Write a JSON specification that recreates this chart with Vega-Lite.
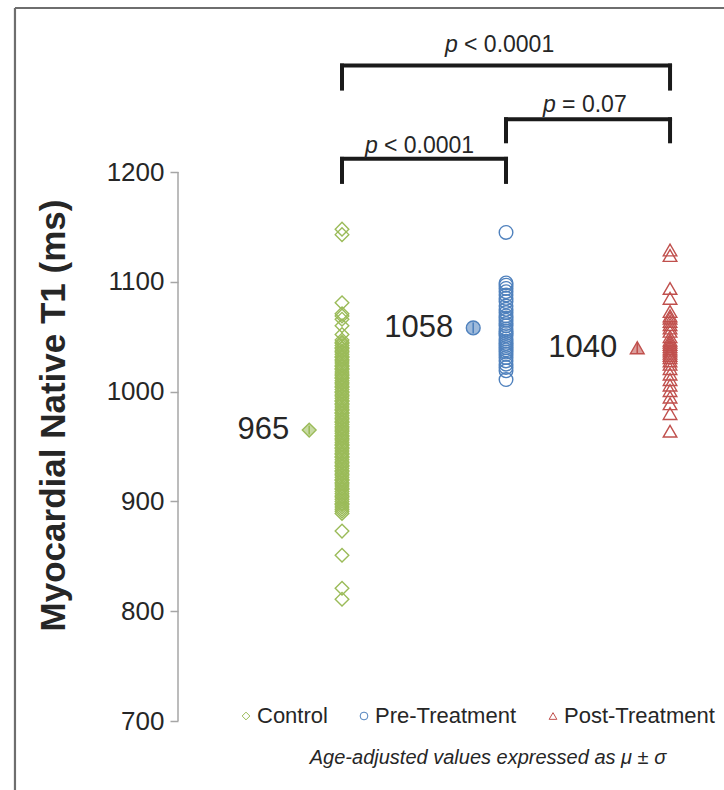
{
  "$schema": "https://vega.github.io/schema/vega-lite/v6.json",
  "width": 546,
  "height": 782,
  "autosize": "none",
  "padding": {"left": 178, "top": 8, "right": 0, "bottom": 0},
  "background": "white",
  "config": {"view": {"stroke": null}, "font": "Liberation Sans"},
  "resolve": {"scale": {"color": "independent", "shape": "independent", "stroke": "independent"}},
  "datasets": {
    "points": [
      {"group": "Control", "x": 1, "t1": 1148}, {"group": "Control", "x": 1, "t1": 1143},
      {"group": "Control", "x": 1, "t1": 1081}, {"group": "Control", "x": 1, "t1": 1071},
      {"group": "Control", "x": 1, "t1": 1069}, {"group": "Control", "x": 1, "t1": 1066},
      {"group": "Control", "x": 1, "t1": 1060}, {"group": "Control", "x": 1, "t1": 1052},
      {"group": "Control", "x": 1, "t1": 1047}, {"group": "Control", "x": 1, "t1": 1045},
      {"group": "Control", "x": 1, "t1": 1044}, {"group": "Control", "x": 1, "t1": 1042},
      {"group": "Control", "x": 1, "t1": 1040}, {"group": "Control", "x": 1, "t1": 1039},
      {"group": "Control", "x": 1, "t1": 1037}, {"group": "Control", "x": 1, "t1": 1036},
      {"group": "Control", "x": 1, "t1": 1034}, {"group": "Control", "x": 1, "t1": 1032},
      {"group": "Control", "x": 1, "t1": 1031}, {"group": "Control", "x": 1, "t1": 1029},
      {"group": "Control", "x": 1, "t1": 1028}, {"group": "Control", "x": 1, "t1": 1026},
      {"group": "Control", "x": 1, "t1": 1024}, {"group": "Control", "x": 1, "t1": 1023},
      {"group": "Control", "x": 1, "t1": 1021}, {"group": "Control", "x": 1, "t1": 1020},
      {"group": "Control", "x": 1, "t1": 1018}, {"group": "Control", "x": 1, "t1": 1016},
      {"group": "Control", "x": 1, "t1": 1015}, {"group": "Control", "x": 1, "t1": 1013},
      {"group": "Control", "x": 1, "t1": 1012}, {"group": "Control", "x": 1, "t1": 1010},
      {"group": "Control", "x": 1, "t1": 1008}, {"group": "Control", "x": 1, "t1": 1007},
      {"group": "Control", "x": 1, "t1": 1005}, {"group": "Control", "x": 1, "t1": 1004},
      {"group": "Control", "x": 1, "t1": 1002}, {"group": "Control", "x": 1, "t1": 1000},
      {"group": "Control", "x": 1, "t1": 999}, {"group": "Control", "x": 1, "t1": 997},
      {"group": "Control", "x": 1, "t1": 996}, {"group": "Control", "x": 1, "t1": 994},
      {"group": "Control", "x": 1, "t1": 992}, {"group": "Control", "x": 1, "t1": 991},
      {"group": "Control", "x": 1, "t1": 989}, {"group": "Control", "x": 1, "t1": 988},
      {"group": "Control", "x": 1, "t1": 986}, {"group": "Control", "x": 1, "t1": 984},
      {"group": "Control", "x": 1, "t1": 983}, {"group": "Control", "x": 1, "t1": 981},
      {"group": "Control", "x": 1, "t1": 980}, {"group": "Control", "x": 1, "t1": 978},
      {"group": "Control", "x": 1, "t1": 976}, {"group": "Control", "x": 1, "t1": 975},
      {"group": "Control", "x": 1, "t1": 973}, {"group": "Control", "x": 1, "t1": 972},
      {"group": "Control", "x": 1, "t1": 970}, {"group": "Control", "x": 1, "t1": 968},
      {"group": "Control", "x": 1, "t1": 967}, {"group": "Control", "x": 1, "t1": 965},
      {"group": "Control", "x": 1, "t1": 964}, {"group": "Control", "x": 1, "t1": 962},
      {"group": "Control", "x": 1, "t1": 960}, {"group": "Control", "x": 1, "t1": 959},
      {"group": "Control", "x": 1, "t1": 957}, {"group": "Control", "x": 1, "t1": 956},
      {"group": "Control", "x": 1, "t1": 954}, {"group": "Control", "x": 1, "t1": 952},
      {"group": "Control", "x": 1, "t1": 951}, {"group": "Control", "x": 1, "t1": 949},
      {"group": "Control", "x": 1, "t1": 948}, {"group": "Control", "x": 1, "t1": 946},
      {"group": "Control", "x": 1, "t1": 944}, {"group": "Control", "x": 1, "t1": 943},
      {"group": "Control", "x": 1, "t1": 941}, {"group": "Control", "x": 1, "t1": 940},
      {"group": "Control", "x": 1, "t1": 938}, {"group": "Control", "x": 1, "t1": 936},
      {"group": "Control", "x": 1, "t1": 935}, {"group": "Control", "x": 1, "t1": 933},
      {"group": "Control", "x": 1, "t1": 932}, {"group": "Control", "x": 1, "t1": 930},
      {"group": "Control", "x": 1, "t1": 928}, {"group": "Control", "x": 1, "t1": 927},
      {"group": "Control", "x": 1, "t1": 925}, {"group": "Control", "x": 1, "t1": 924},
      {"group": "Control", "x": 1, "t1": 922}, {"group": "Control", "x": 1, "t1": 920},
      {"group": "Control", "x": 1, "t1": 919}, {"group": "Control", "x": 1, "t1": 917},
      {"group": "Control", "x": 1, "t1": 916}, {"group": "Control", "x": 1, "t1": 914},
      {"group": "Control", "x": 1, "t1": 912}, {"group": "Control", "x": 1, "t1": 911},
      {"group": "Control", "x": 1, "t1": 909}, {"group": "Control", "x": 1, "t1": 907},
      {"group": "Control", "x": 1, "t1": 905}, {"group": "Control", "x": 1, "t1": 904},
      {"group": "Control", "x": 1, "t1": 902}, {"group": "Control", "x": 1, "t1": 900},
      {"group": "Control", "x": 1, "t1": 898}, {"group": "Control", "x": 1, "t1": 897},
      {"group": "Control", "x": 1, "t1": 895}, {"group": "Control", "x": 1, "t1": 893},
      {"group": "Control", "x": 1, "t1": 891}, {"group": "Control", "x": 1, "t1": 889},
      {"group": "Control", "x": 1, "t1": 873}, {"group": "Control", "x": 1, "t1": 851},
      {"group": "Control", "x": 1, "t1": 821}, {"group": "Control", "x": 1, "t1": 811},
      {"group": "Pre-Treatment", "x": 2, "t1": 1145}, {"group": "Pre-Treatment", "x": 2, "t1": 1099},
      {"group": "Pre-Treatment", "x": 2, "t1": 1097}, {"group": "Pre-Treatment", "x": 2, "t1": 1094},
      {"group": "Pre-Treatment", "x": 2, "t1": 1091}, {"group": "Pre-Treatment", "x": 2, "t1": 1088},
      {"group": "Pre-Treatment", "x": 2, "t1": 1085}, {"group": "Pre-Treatment", "x": 2, "t1": 1082},
      {"group": "Pre-Treatment", "x": 2, "t1": 1078}, {"group": "Pre-Treatment", "x": 2, "t1": 1075},
      {"group": "Pre-Treatment", "x": 2, "t1": 1072}, {"group": "Pre-Treatment", "x": 2, "t1": 1069},
      {"group": "Pre-Treatment", "x": 2, "t1": 1067}, {"group": "Pre-Treatment", "x": 2, "t1": 1065},
      {"group": "Pre-Treatment", "x": 2, "t1": 1062}, {"group": "Pre-Treatment", "x": 2, "t1": 1060},
      {"group": "Pre-Treatment", "x": 2, "t1": 1057}, {"group": "Pre-Treatment", "x": 2, "t1": 1055},
      {"group": "Pre-Treatment", "x": 2, "t1": 1053}, {"group": "Pre-Treatment", "x": 2, "t1": 1051},
      {"group": "Pre-Treatment", "x": 2, "t1": 1048}, {"group": "Pre-Treatment", "x": 2, "t1": 1046},
      {"group": "Pre-Treatment", "x": 2, "t1": 1044}, {"group": "Pre-Treatment", "x": 2, "t1": 1042},
      {"group": "Pre-Treatment", "x": 2, "t1": 1040}, {"group": "Pre-Treatment", "x": 2, "t1": 1038},
      {"group": "Pre-Treatment", "x": 2, "t1": 1036}, {"group": "Pre-Treatment", "x": 2, "t1": 1034},
      {"group": "Pre-Treatment", "x": 2, "t1": 1031}, {"group": "Pre-Treatment", "x": 2, "t1": 1028},
      {"group": "Pre-Treatment", "x": 2, "t1": 1025}, {"group": "Pre-Treatment", "x": 2, "t1": 1022},
      {"group": "Pre-Treatment", "x": 2, "t1": 1019}, {"group": "Pre-Treatment", "x": 2, "t1": 1011},
      {"group": "Post-Treatment", "x": 3, "t1": 1129}, {"group": "Post-Treatment", "x": 3, "t1": 1124},
      {"group": "Post-Treatment", "x": 3, "t1": 1094}, {"group": "Post-Treatment", "x": 3, "t1": 1085},
      {"group": "Post-Treatment", "x": 3, "t1": 1073}, {"group": "Post-Treatment", "x": 3, "t1": 1069},
      {"group": "Post-Treatment", "x": 3, "t1": 1067}, {"group": "Post-Treatment", "x": 3, "t1": 1064},
      {"group": "Post-Treatment", "x": 3, "t1": 1061}, {"group": "Post-Treatment", "x": 3, "t1": 1058},
      {"group": "Post-Treatment", "x": 3, "t1": 1055}, {"group": "Post-Treatment", "x": 3, "t1": 1050},
      {"group": "Post-Treatment", "x": 3, "t1": 1047}, {"group": "Post-Treatment", "x": 3, "t1": 1045},
      {"group": "Post-Treatment", "x": 3, "t1": 1043}, {"group": "Post-Treatment", "x": 3, "t1": 1041},
      {"group": "Post-Treatment", "x": 3, "t1": 1039}, {"group": "Post-Treatment", "x": 3, "t1": 1037},
      {"group": "Post-Treatment", "x": 3, "t1": 1035}, {"group": "Post-Treatment", "x": 3, "t1": 1033},
      {"group": "Post-Treatment", "x": 3, "t1": 1031}, {"group": "Post-Treatment", "x": 3, "t1": 1028},
      {"group": "Post-Treatment", "x": 3, "t1": 1025}, {"group": "Post-Treatment", "x": 3, "t1": 1021},
      {"group": "Post-Treatment", "x": 3, "t1": 1016}, {"group": "Post-Treatment", "x": 3, "t1": 1011},
      {"group": "Post-Treatment", "x": 3, "t1": 1006}, {"group": "Post-Treatment", "x": 3, "t1": 1001},
      {"group": "Post-Treatment", "x": 3, "t1": 995}, {"group": "Post-Treatment", "x": 3, "t1": 989},
      {"group": "Post-Treatment", "x": 3, "t1": 980}, {"group": "Post-Treatment", "x": 3, "t1": 964}
    ],
    "means": [
      {"group": "Control", "x": 0.8, "mean": 965, "lo": 961, "hi": 969},
      {"group": "Pre-Treatment", "x": 1.8, "mean": 1058, "lo": 1053, "hi": 1063},
      {"group": "Post-Treatment", "x": 2.8, "mean": 1040, "lo": 1035, "hi": 1045}
    ],
    "brackets": [
      {"from": 1, "to": 3, "top": 1297, "bottom": 1276, "p": "p", "rest": "< 0.0001", "lx": 1.628, "ly": 1316},
      {"from": 2, "to": 3, "top": 1248, "bottom": 1228, "p": "p", "rest": "= 0.07", "lx": 2.226, "ly": 1261},
      {"from": 1, "to": 2, "top": 1212, "bottom": 1191, "p": "p", "rest": "< 0.0001", "lx": 1.14, "ly": 1224}
    ],
    "note": [
      {"text": "Age-adjusted values expressed as μ ± σ", "x": 1.89, "y": 666}
    ]
  },
  "layer": [
    {
      "data": {"name": "points"},
      "mark": {"type": "point", "filled": false, "opacity": 1, "strokeWidth": 1.4, "size": 185},
      "encoding": {
        "x": {"field": "x", "type": "quantitative", "scale": {"domain": [0, 3.329], "nice": false, "zero": false}, "axis": null},
        "y": {
          "field": "t1", "type": "quantitative",
          "scale": {"domain": [637.2, 1349.4], "nice": false, "zero": false},
          "axis": {"values": [700, 800, 900, 1000, 1100, 1200], "format": "d", "domain": false, "grid": false, "ticks": true, "tickColor": "#A6A6A6", "tickSize": 8, "tickWidth": 1.5, "labelFont": "Liberation Sans", "labelFontSize": 26, "labelColor": "#262626", "labelPadding": 6, "title": "Myocardial Native T1 (ms)", "titleFont": "Liberation Sans", "titleFontSize": 35, "titleFontWeight": "bold", "titleColor": "#262626", "titleX": -114, "titleY": 407, "titleBaseline": "alphabetic", "titleAngle": 270}
        },
        "color": {
          "field": "group", "type": "nominal",
          "scale": {"domain": ["Control", "Pre-Treatment", "Post-Treatment"], "range": ["#9BBB59", "#4F81BD", "#C0504D"]},
          "legend": {
            "orient": "none", "legendX": 57, "legendY": 697, "direction": "horizontal", "title": null,
            "columnPadding": 25, "symbolSize": 60, "symbolStrokeWidth": 1, "symbolFillColor": "white",
            "labelFont": "Liberation Sans", "labelFontSize": 22, "labelColor": "#262626", "labelOffset": 0
          }
        },
        "shape": {
          "field": "group", "type": "nominal",
          "scale": {"domain": ["Control", "Pre-Treatment", "Post-Treatment"], "range": ["diamond", "circle", "triangle-up"]},
          "legend": {
            "orient": "none", "legendX": 57, "legendY": 697, "direction": "horizontal", "title": null,
            "columnPadding": 25, "symbolSize": 60, "symbolStrokeWidth": 1, "symbolFillColor": "white",
            "labelFont": "Liberation Sans", "labelFontSize": 22, "labelColor": "#262626", "labelOffset": 0
          }
        }
      }
    },
    {
      "data": {"values": [{}]},
      "mark": {"type": "rule", "color": "#6E6E6E", "strokeWidth": 2.2},
      "encoding": {
        "x": {"datum": -0.994, "type": "quantitative", "scale": {"domain": [0, 3.329], "nice": false, "zero": false}, "axis": null},
        "y": {"datum": 637.2, "type": "quantitative", "scale": {"domain": [637.2, 1349.4], "nice": false, "zero": false}, "axis": {"values": [700, 800, 900, 1000, 1100, 1200], "format": "d", "domain": false, "grid": false, "ticks": true, "tickColor": "#A6A6A6", "tickSize": 8, "tickWidth": 1.5, "labelFont": "Liberation Sans", "labelFontSize": 26, "labelColor": "#262626", "labelPadding": 6, "title": "Myocardial Native T1 (ms)", "titleFont": "Liberation Sans", "titleFontSize": 35, "titleFontWeight": "bold", "titleColor": "#262626", "titleX": -114, "titleY": 407, "titleBaseline": "alphabetic", "titleAngle": 270}},
        "y2": {"datum": 1349.4}
      }
    },
    {
      "data": {"values": [{}]},
      "mark": {"type": "rule", "color": "#6E6E6E", "strokeWidth": 2.2},
      "encoding": {
        "x": {"datum": -0.994, "type": "quantitative", "scale": {"domain": [0, 3.329], "nice": false, "zero": false}, "axis": null},
        "x2": {"datum": 3.329},
        "y": {"datum": 1349.4, "type": "quantitative", "scale": {"domain": [637.2, 1349.4], "nice": false, "zero": false}, "axis": {"values": [700, 800, 900, 1000, 1100, 1200], "format": "d", "domain": false, "grid": false, "ticks": true, "tickColor": "#A6A6A6", "tickSize": 8, "tickWidth": 1.5, "labelFont": "Liberation Sans", "labelFontSize": 26, "labelColor": "#262626", "labelPadding": 6, "title": "Myocardial Native T1 (ms)", "titleFont": "Liberation Sans", "titleFontSize": 35, "titleFontWeight": "bold", "titleColor": "#262626", "titleX": -114, "titleY": 407, "titleBaseline": "alphabetic", "titleAngle": 270}}
      }
    },
    {
      "data": {"values": [{}]},
      "mark": {"type": "rule", "color": "#A6A6A6", "strokeWidth": 1.5},
      "encoding": {
        "x": {"datum": 0, "type": "quantitative", "scale": {"domain": [0, 3.329], "nice": false, "zero": false}, "axis": null},
        "y": {"datum": 700, "type": "quantitative", "scale": {"domain": [637.2, 1349.4], "nice": false, "zero": false}, "axis": {"values": [700, 800, 900, 1000, 1100, 1200], "format": "d", "domain": false, "grid": false, "ticks": true, "tickColor": "#A6A6A6", "tickSize": 8, "tickWidth": 1.5, "labelFont": "Liberation Sans", "labelFontSize": 26, "labelColor": "#262626", "labelPadding": 6, "title": "Myocardial Native T1 (ms)", "titleFont": "Liberation Sans", "titleFontSize": 35, "titleFontWeight": "bold", "titleColor": "#262626", "titleX": -114, "titleY": 407, "titleBaseline": "alphabetic", "titleAngle": 270}},
        "y2": {"datum": 1200}
      }
    },
    {
      "data": {"name": "means"},
      "mark": {"type": "point", "filled": true, "opacity": 1, "fillOpacity": 0.55, "strokeWidth": 1.4, "size": 190},
      "encoding": {
        "x": {"field": "x", "type": "quantitative", "scale": {"domain": [0, 3.329], "nice": false, "zero": false}, "axis": null},
        "y": {"field": "mean", "type": "quantitative", "scale": {"domain": [637.2, 1349.4], "nice": false, "zero": false}, "axis": {"values": [700, 800, 900, 1000, 1100, 1200], "format": "d", "domain": false, "grid": false, "ticks": true, "tickColor": "#A6A6A6", "tickSize": 8, "tickWidth": 1.5, "labelFont": "Liberation Sans", "labelFontSize": 26, "labelColor": "#262626", "labelPadding": 6, "title": "Myocardial Native T1 (ms)", "titleFont": "Liberation Sans", "titleFontSize": 35, "titleFontWeight": "bold", "titleColor": "#262626", "titleX": -114, "titleY": 407, "titleBaseline": "alphabetic", "titleAngle": 270}},
        "color": {"field": "group", "type": "nominal", "scale": {"domain": ["Control", "Pre-Treatment", "Post-Treatment"], "range": ["#9BBB59", "#4F81BD", "#C0504D"]}, "legend": null},
        "stroke": {"field": "group", "type": "nominal", "scale": {"domain": ["Control", "Pre-Treatment", "Post-Treatment"], "range": ["#9BBB59", "#4F81BD", "#C0504D"]}, "legend": null},
        "shape": {"field": "group", "type": "nominal", "scale": {"domain": ["Control", "Pre-Treatment", "Post-Treatment"], "range": ["diamond", "circle", "triangle-up"]}, "legend": null}
      }
    },
    {
      "data": {"name": "means"},
      "mark": {"type": "rule", "strokeWidth": 1.6},
      "encoding": {
        "x": {"field": "x", "type": "quantitative", "scale": {"domain": [0, 3.329], "nice": false, "zero": false}, "axis": null},
        "y": {"field": "lo", "type": "quantitative", "scale": {"domain": [637.2, 1349.4], "nice": false, "zero": false}, "axis": {"values": [700, 800, 900, 1000, 1100, 1200], "format": "d", "domain": false, "grid": false, "ticks": true, "tickColor": "#A6A6A6", "tickSize": 8, "tickWidth": 1.5, "labelFont": "Liberation Sans", "labelFontSize": 26, "labelColor": "#262626", "labelPadding": 6, "title": "Myocardial Native T1 (ms)", "titleFont": "Liberation Sans", "titleFontSize": 35, "titleFontWeight": "bold", "titleColor": "#262626", "titleX": -114, "titleY": 407, "titleBaseline": "alphabetic", "titleAngle": 270}},
        "y2": {"field": "hi"},
        "color": {"field": "group", "type": "nominal", "scale": {"domain": ["Control", "Pre-Treatment", "Post-Treatment"], "range": ["#9BBB59", "#4F81BD", "#C0504D"]}, "legend": null}
      }
    },
    {
      "data": {"name": "means"},
      "mark": {"type": "text", "align": "right", "baseline": "middle", "dx": -20, "fontSize": 31, "font": "Liberation Sans", "color": "#262626"},
      "encoding": {
        "x": {"field": "x", "type": "quantitative", "scale": {"domain": [0, 3.329], "nice": false, "zero": false}, "axis": null},
        "y": {"field": "mean", "type": "quantitative", "scale": {"domain": [637.2, 1349.4], "nice": false, "zero": false}, "axis": {"values": [700, 800, 900, 1000, 1100, 1200], "format": "d", "domain": false, "grid": false, "ticks": true, "tickColor": "#A6A6A6", "tickSize": 8, "tickWidth": 1.5, "labelFont": "Liberation Sans", "labelFontSize": 26, "labelColor": "#262626", "labelPadding": 6, "title": "Myocardial Native T1 (ms)", "titleFont": "Liberation Sans", "titleFontSize": 35, "titleFontWeight": "bold", "titleColor": "#262626", "titleX": -114, "titleY": 407, "titleBaseline": "alphabetic", "titleAngle": 270}},
        "text": {"field": "mean", "type": "quantitative", "format": "d"}
      }
    },
    {
      "data": {"name": "brackets"},
      "mark": {"type": "rule", "color": "#1A1A1A", "strokeWidth": 4, "strokeCap": "square"},
      "encoding": {
        "x": {"field": "from", "type": "quantitative", "scale": {"domain": [0, 3.329], "nice": false, "zero": false}, "axis": null},
        "x2": {"field": "to"},
        "y": {"field": "top", "type": "quantitative", "scale": {"domain": [637.2, 1349.4], "nice": false, "zero": false}, "axis": {"values": [700, 800, 900, 1000, 1100, 1200], "format": "d", "domain": false, "grid": false, "ticks": true, "tickColor": "#A6A6A6", "tickSize": 8, "tickWidth": 1.5, "labelFont": "Liberation Sans", "labelFontSize": 26, "labelColor": "#262626", "labelPadding": 6, "title": "Myocardial Native T1 (ms)", "titleFont": "Liberation Sans", "titleFontSize": 35, "titleFontWeight": "bold", "titleColor": "#262626", "titleX": -114, "titleY": 407, "titleBaseline": "alphabetic", "titleAngle": 270}}
      }
    },
    {
      "data": {"name": "brackets"},
      "mark": {"type": "rule", "color": "#1A1A1A", "strokeWidth": 4, "strokeCap": "square"},
      "encoding": {
        "x": {"field": "from", "type": "quantitative", "scale": {"domain": [0, 3.329], "nice": false, "zero": false}, "axis": null},
        "y": {"field": "bottom", "type": "quantitative", "scale": {"domain": [637.2, 1349.4], "nice": false, "zero": false}, "axis": {"values": [700, 800, 900, 1000, 1100, 1200], "format": "d", "domain": false, "grid": false, "ticks": true, "tickColor": "#A6A6A6", "tickSize": 8, "tickWidth": 1.5, "labelFont": "Liberation Sans", "labelFontSize": 26, "labelColor": "#262626", "labelPadding": 6, "title": "Myocardial Native T1 (ms)", "titleFont": "Liberation Sans", "titleFontSize": 35, "titleFontWeight": "bold", "titleColor": "#262626", "titleX": -114, "titleY": 407, "titleBaseline": "alphabetic", "titleAngle": 270}},
        "y2": {"field": "top"}
      }
    },
    {
      "data": {"name": "brackets"},
      "mark": {"type": "rule", "color": "#1A1A1A", "strokeWidth": 4, "strokeCap": "square"},
      "encoding": {
        "x": {"field": "to", "type": "quantitative", "scale": {"domain": [0, 3.329], "nice": false, "zero": false}, "axis": null},
        "y": {"field": "bottom", "type": "quantitative", "scale": {"domain": [637.2, 1349.4], "nice": false, "zero": false}, "axis": {"values": [700, 800, 900, 1000, 1100, 1200], "format": "d", "domain": false, "grid": false, "ticks": true, "tickColor": "#A6A6A6", "tickSize": 8, "tickWidth": 1.5, "labelFont": "Liberation Sans", "labelFontSize": 26, "labelColor": "#262626", "labelPadding": 6, "title": "Myocardial Native T1 (ms)", "titleFont": "Liberation Sans", "titleFontSize": 35, "titleFontWeight": "bold", "titleColor": "#262626", "titleX": -114, "titleY": 407, "titleBaseline": "alphabetic", "titleAngle": 270}},
        "y2": {"field": "top"}
      }
    },
    {
      "data": {"name": "brackets"},
      "mark": {"type": "text", "align": "left", "baseline": "middle", "fontSize": 23, "fontStyle": "italic", "font": "Liberation Sans", "color": "#262626"},
      "encoding": {
        "x": {"field": "lx", "type": "quantitative", "scale": {"domain": [0, 3.329], "nice": false, "zero": false}, "axis": null},
        "y": {"field": "ly", "type": "quantitative", "scale": {"domain": [637.2, 1349.4], "nice": false, "zero": false}, "axis": {"values": [700, 800, 900, 1000, 1100, 1200], "format": "d", "domain": false, "grid": false, "ticks": true, "tickColor": "#A6A6A6", "tickSize": 8, "tickWidth": 1.5, "labelFont": "Liberation Sans", "labelFontSize": 26, "labelColor": "#262626", "labelPadding": 6, "title": "Myocardial Native T1 (ms)", "titleFont": "Liberation Sans", "titleFontSize": 35, "titleFontWeight": "bold", "titleColor": "#262626", "titleX": -114, "titleY": 407, "titleBaseline": "alphabetic", "titleAngle": 270}},
        "text": {"field": "p"}
      }
    },
    {
      "data": {"name": "brackets"},
      "mark": {"type": "text", "align": "left", "baseline": "middle", "dx": 19, "fontSize": 23, "font": "Liberation Sans", "color": "#262626"},
      "encoding": {
        "x": {"field": "lx", "type": "quantitative", "scale": {"domain": [0, 3.329], "nice": false, "zero": false}, "axis": null},
        "y": {"field": "ly", "type": "quantitative", "scale": {"domain": [637.2, 1349.4], "nice": false, "zero": false}, "axis": {"values": [700, 800, 900, 1000, 1100, 1200], "format": "d", "domain": false, "grid": false, "ticks": true, "tickColor": "#A6A6A6", "tickSize": 8, "tickWidth": 1.5, "labelFont": "Liberation Sans", "labelFontSize": 26, "labelColor": "#262626", "labelPadding": 6, "title": "Myocardial Native T1 (ms)", "titleFont": "Liberation Sans", "titleFontSize": 35, "titleFontWeight": "bold", "titleColor": "#262626", "titleX": -114, "titleY": 407, "titleBaseline": "alphabetic", "titleAngle": 270}},
        "text": {"field": "rest"}
      }
    },
    {
      "data": {"name": "note"},
      "mark": {"type": "text", "align": "center", "baseline": "middle", "fontSize": 20, "fontStyle": "italic", "font": "Liberation Sans", "color": "#262626"},
      "encoding": {
        "x": {"field": "x", "type": "quantitative", "scale": {"domain": [0, 3.329], "nice": false, "zero": false}, "axis": null},
        "y": {"field": "y", "type": "quantitative", "scale": {"domain": [637.2, 1349.4], "nice": false, "zero": false}, "axis": {"values": [700, 800, 900, 1000, 1100, 1200], "format": "d", "domain": false, "grid": false, "ticks": true, "tickColor": "#A6A6A6", "tickSize": 8, "tickWidth": 1.5, "labelFont": "Liberation Sans", "labelFontSize": 26, "labelColor": "#262626", "labelPadding": 6, "title": "Myocardial Native T1 (ms)", "titleFont": "Liberation Sans", "titleFontSize": 35, "titleFontWeight": "bold", "titleColor": "#262626", "titleX": -114, "titleY": 407, "titleBaseline": "alphabetic", "titleAngle": 270}},
        "text": {"field": "text"}
      }
    }
  ]
}
